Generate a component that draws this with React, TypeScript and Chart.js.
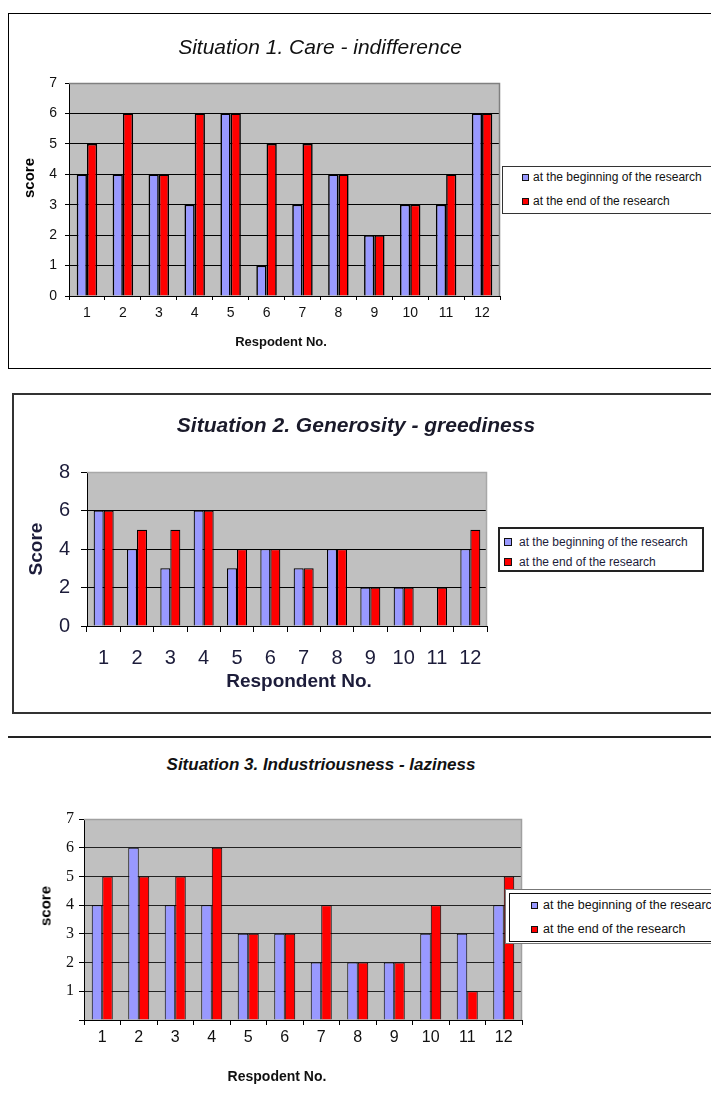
import React, { useEffect, useRef } from 'react';
import { Chart, registerables } from 'chart.js';

Chart.register(...registerables);

// ---------- data ----------
const respondents = ['1', '2', '3', '4', '5', '6', '7', '8', '9', '10', '11', '12'];
const seriesNames = ['at the beginning of the research', 'at the end of the research'];

const careBegin = [4, 4, 4, 3, 6, 1, 3, 4, 2, 3, 3, 6];
const careEnd = [5, 6, 4, 6, 6, 5, 5, 4, 2, 3, 4, 6];

const generosityBegin = [6, 4, 3, 6, 3, 4, 3, 4, 2, 2, 0, 4];
const generosityEnd = [6, 5, 5, 6, 4, 4, 3, 4, 2, 2, 2, 5];

const industryBegin = [4, 6, 4, 4, 3, 3, 2, 2, 2, 3, 3, 4];
const industryEnd = [5, 5, 5, 6, 3, 3, 4, 2, 2, 4, 1, 5];

const titles = [
  'Situation 1. Care - indifference',
  'Situation 2. Generosity - greediness',
  'Situation 3. Industriousness - laziness',
];
const yTitles = ['score', 'Score', 'score'];
const xTitles = ['Respodent No.', 'Respondent No.', 'Respodent No.'];

// ---------- styles ----------
const BLUE = '#9999ff';
const RED = '#ff0000';
const PLOT_BG = '#c0c0c0';
const SANS = '"Liberation Sans", Arial, sans-serif';
const SERIF = '"Liberation Serif", "Times New Roman", serif';

type Plot = { L: number; T: number; R: number; B: number };

type PanelProps = {
  begin: number[];
  end: number[];
  yMax: number;
  yStep: number;
  plot: Plot;
  yFont: { family: string; size: number };
  yTickLen: number;
  yPad: number;
  xFont: { family: string; size: number };
  xTickLen: number;
  xPad: number;
  catPct: number;
  color: string;
  gridColor: string;
  plotBorder: string;
  barBorder: number;
  hideZero?: boolean;
};

function BarPanel(p: PanelProps) {
  const ref = useRef<HTMLCanvasElement>(null);
  const cx = 0;
  const cy = p.plot.T - 40;
  const cw = p.plot.R + 30;
  const ch = p.plot.B + 60 - cy;

  useEffect(() => {
    if (!ref.current) return;
    const plotPlugin = {
      id: 'plotBg',
      beforeDraw(chart: any) {
        const { ctx, chartArea: a } = chart;
        ctx.save();
        ctx.fillStyle = PLOT_BG;
        ctx.fillRect(a.left, a.top, a.right - a.left, a.bottom - a.top);
        ctx.restore();
      },
      afterDatasetsDraw(chart: any) {
        const { ctx, chartArea: a } = chart;
        ctx.save();
        ctx.strokeStyle = p.plotBorder;
        ctx.lineWidth = 1.5;
        ctx.beginPath();
        ctx.moveTo(a.left, a.top + 0.5);
        ctx.lineTo(a.right - 0.5, a.top + 0.5);
        ctx.lineTo(a.right - 0.5, a.bottom);
        ctx.stroke();
        ctx.restore();
      },
    };
    const chart = new Chart(ref.current, {
      type: 'bar',
      data: {
        labels: respondents,
        datasets: [
          {
            label: seriesNames[0],
            data: p.begin,
            backgroundColor: BLUE,
            borderColor: '#000',
            borderWidth: p.barBorder,
            categoryPercentage: p.catPct,
            barPercentage: 1,
          },
          {
            label: seriesNames[1],
            data: p.end,
            backgroundColor: RED,
            borderColor: '#000',
            borderWidth: p.barBorder,
            categoryPercentage: p.catPct,
            barPercentage: 1,
          },
        ],
      },
      options: {
        responsive: false,
        animation: false,
        devicePixelRatio: 1,
        layout: { padding: { left: 0, top: p.plot.T - cy, right: cw - p.plot.R, bottom: 0 } },
        plugins: {
          legend: { display: false },
          title: { display: false },
          tooltip: { enabled: false },
        },
        scales: {
          x: {
            type: 'category',
            offset: true,
            grid: {
              offset: true,
              drawOnChartArea: false,
              drawTicks: true,
              tickLength: p.xTickLen,
              color: '#000',
              lineWidth: 1,
            },
            border: { display: true, color: '#000', width: 1 },
            ticks: {
              font: { family: p.xFont.family, size: p.xFont.size },
              color: p.color,
              padding: p.xPad,
              maxRotation: 0,
              autoSkip: false,
            },
            afterFit: (s: any) => {
              s.height = cy + ch - p.plot.B;
            },
          },
          y: {
            min: 0,
            max: p.yMax,
            ticks: {
              stepSize: p.yStep,
              font: { family: p.yFont.family, size: p.yFont.size },
              color: p.color,
              padding: p.yPad,
              callback: (v: any) => (p.hideZero && Number(v) === 0 ? '' : String(v)),
            },
            grid: {
              color: (c: any) => (c.tick && c.tick.value === p.yMax ? 'rgba(0,0,0,0)' : p.gridColor),
              tickColor: '#000',
              tickLength: p.yTickLen,
              drawTicks: true,
              lineWidth: 1,
            },
            border: { display: true, color: '#000', width: 1 },
            afterFit: (s: any) => {
              s.width = p.plot.L - cx;
            },
          },
        },
      } as any,
      plugins: [plotPlugin],
    });
    return () => chart.destroy();
  }, []);

  return (
    <canvas
      ref={ref}
      width={cw}
      height={ch}
      style={{ position: 'absolute', left: cx, top: cy, width: cw, height: ch, zIndex: 1 }}
    />
  );
}

function Txt(props: {
  x: number;
  y: number;
  size: number;
  bold?: boolean;
  italic?: boolean;
  family?: string;
  color?: string;
  rotate?: boolean;
  children: React.ReactNode;
}) {
  return (
    <div
      style={{
        position: 'absolute',
        left: props.x,
        top: props.y,
        transform: `translate(-50%, -50%)${props.rotate ? ' rotate(-90deg)' : ''}`,
        fontFamily: props.family || SANS,
        fontSize: props.size,
        fontWeight: props.bold ? 'bold' : 'normal',
        fontStyle: props.italic ? 'italic' : 'normal',
        color: props.color || '#000',
        whiteSpace: 'nowrap',
        lineHeight: 1,
        zIndex: 2,
      }}
    >
      {props.children}
    </div>
  );
}

function Legend(props: {
  left: number;
  top: number;
  width: number;
  height: number;
  rows: number[];
  sqX: number;
  sq: number;
  textX: number;
  size: number;
  border: string;
  color: string;
}) {
  const cols = [BLUE, RED];
  return (
    <div
      style={{
        position: 'absolute',
        left: props.left,
        top: props.top,
        width: props.width,
        height: props.height,
        boxSizing: 'border-box',
        border: props.border,
        background: '#fff',
        zIndex: 3,
      }}
    >
      {seriesNames.map((n, i) => (
        <React.Fragment key={n}>
          <div
            style={{
              position: 'absolute',
              left: props.sqX - props.left - 1,
              top: props.rows[i] - props.top - props.sq / 2 - 1,
              width: props.sq,
              height: props.sq,
              boxSizing: 'border-box',
              border: '1.5px solid #111',
              background: cols[i],
            }}
          />
          <div
            style={{
              position: 'absolute',
              left: props.textX - props.left - 1,
              top: props.rows[i] - props.top - 1,
              transform: 'translateY(-50%)',
              fontFamily: SANS,
              fontSize: props.size,
              color: props.color,
              whiteSpace: 'nowrap',
              lineHeight: 1,
            }}
          >
            {n}
          </div>
        </React.Fragment>
      ))}
    </div>
  );
}

export default function App() {
  return (
    <div
      style={{
        position: 'absolute',
        left: 0,
        top: 0,
        width: 711,
        height: 1102,
        overflow: 'hidden',
        background: '#fff',
      }}
    >
      {/* ----- Chart 1 ----- */}
      <div
        style={{
          position: 'absolute',
          left: 8,
          top: 13,
          width: 760,
          height: 356,
          boxSizing: 'border-box',
          border: '1px solid #000',
        }}
      />
      <Txt x={320} y={46} size={21} italic color="#111">
        {titles[0]}
      </Txt>
      <BarPanel
        begin={careBegin}
        end={careEnd}
        yMax={7}
        yStep={1}
        plot={{ L: 69, T: 83, R: 500, B: 296 }}
        yFont={{ family: SANS, size: 14 }}
        yTickLen={4}
        yPad={8}
        xFont={{ family: SANS, size: 14 }}
        xTickLen={4}
        xPad={5}
        catPct={0.57}
        color="#111"
        gridColor="#000"
        plotBorder="#808080"
        barBorder={1.6}
      />
      <Txt x={28} y={178} size={15} bold rotate>
        {yTitles[0]}
      </Txt>
      <Txt x={281} y={341} size={13} bold color="#111">
        {xTitles[0]}
      </Txt>
      <Legend
        left={502}
        top={166}
        width={240}
        height={48}
        rows={[177, 201]}
        sqX={522}
        sq={7}
        textX={533}
        size={12}
        border="1px solid #333"
        color="#111"
      />

      {/* ----- Chart 2 ----- */}
      <div
        style={{
          position: 'absolute',
          left: 12,
          top: 393,
          width: 760,
          height: 321,
          boxSizing: 'border-box',
          border: '2px solid #333',
        }}
      />
      <Txt x={356} y={424} size={21} bold italic color="#1a1a2a">
        {titles[1]}
      </Txt>
      <BarPanel
        begin={generosityBegin}
        end={generosityEnd}
        yMax={8}
        yStep={2}
        plot={{ L: 87, T: 472, R: 487, B: 626 }}
        yFont={{ family: SANS, size: 20 }}
        yTickLen={6}
        yPad={11}
        xFont={{ family: SANS, size: 20 }}
        xTickLen={6}
        xPad={14}
        catPct={0.6}
        color="#1c1c3a"
        gridColor="#000"
        plotBorder="#a8a8a8"
        barBorder={1.2}
      />
      <Txt x={35} y={549} size={19} bold rotate color="#1c1c3a">
        {yTitles[1]}
      </Txt>
      <Txt x={299} y={680} size={19} bold color="#1c1c3a">
        {xTitles[1]}
      </Txt>
      <Legend
        left={498}
        top={527}
        width={206}
        height={45}
        rows={[541, 561]}
        sqX={503}
        sq={8}
        textX={518}
        size={12}
        border="2px solid #222"
        color="#1c1c3a"
      />

      {/* ----- Chart 3 ----- */}
      <div
        style={{
          position: 'absolute',
          left: 8,
          top: 736,
          width: 760,
          height: 2,
          background: '#222',
        }}
      />
      <Txt x={321} y={764} size={17} bold italic color="#111">
        {titles[2]}
      </Txt>
      <BarPanel
        begin={industryBegin}
        end={industryEnd}
        yMax={7}
        yStep={1}
        plot={{ L: 84, T: 819, R: 522, B: 1020 }}
        yFont={{ family: SERIF, size: 16 }}
        yTickLen={5}
        yPad={5}
        xFont={{ family: SANS, size: 16 }}
        xTickLen={5}
        xPad={3}
        catPct={0.575}
        color="#111"
        gridColor="#222"
        plotBorder="#a0a0a0"
        barBorder={1}
        hideZero
      />
      <Txt x={45} y={906} size={15} bold rotate>
        {yTitles[2]}
      </Txt>
      <Txt x={277} y={1076} size={14} bold color="#111">
        {xTitles[2]}
      </Txt>
      <div
        style={{
          position: 'absolute',
          left: 505,
          top: 889,
          width: 260,
          height: 55,
          boxSizing: 'border-box',
          border: '1px solid #777',
          background: '#fff',
          zIndex: 3,
        }}
      />
      <Legend
        left={509}
        top={893}
        width={250}
        height={49}
        rows={[905, 929]}
        sqX={531}
        sq={7}
        textX={543}
        size={12.5}
        border="1px solid #111"
        color="#111"
      />
    </div>
  );
}
